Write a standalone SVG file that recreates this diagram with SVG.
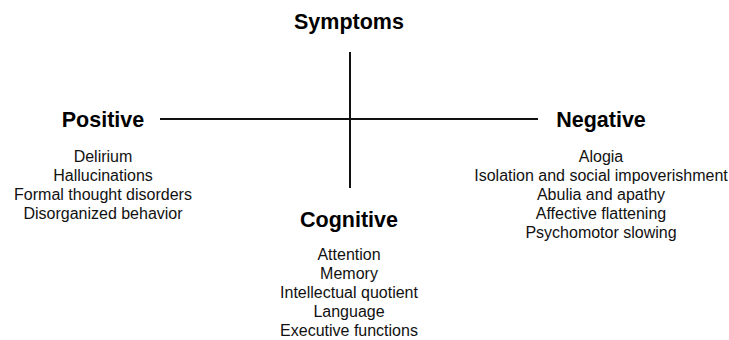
<svg xmlns="http://www.w3.org/2000/svg" width="729" height="340" viewBox="0 0 729 340">
  <style>
    .title { font-family: "Liberation Sans", Arial, sans-serif; font-weight: bold; font-size: 21.5px; fill: #000; text-anchor: middle; }
    .item { font-family: "Liberation Sans", Arial, sans-serif; font-size: 16px; fill: #111; text-anchor: middle; }
    .axis { stroke: #111; stroke-width: 2; fill: none; }
  </style>
  <rect width="729" height="340" fill="#fff"/>
  <g id="connectors">
    <line class="axis" x1="160" y1="119" x2="538" y2="119"/>
    <line class="axis" x1="350" y1="52" x2="350" y2="188"/>
  </g>
  <g id="symptoms">
    <text class="title" x="349" y="29">Symptoms</text>
  </g>
  <g id="positive">
    <text class="title" x="103" y="127">Positive</text>
    <text class="item" x="103" y="162">Delirium</text>
    <text class="item" x="103" y="181">Hallucinations</text>
    <text class="item" x="103" y="200">Formal thought disorders</text>
    <text class="item" x="103" y="219">Disorganized behavior</text>
  </g>
  <g id="negative">
    <text class="title" x="601" y="127">Negative</text>
    <text class="item" x="601" y="162">Alogia</text>
    <text class="item" x="601" y="181">Isolation and social impoverishment</text>
    <text class="item" x="601" y="200">Abulia and apathy</text>
    <text class="item" x="601" y="219">Affective flattening</text>
    <text class="item" x="601" y="238">Psychomotor slowing</text>
  </g>
  <g id="cognitive">
    <text class="title" x="349" y="227">Cognitive</text>
    <text class="item" x="349" y="260">Attention</text>
    <text class="item" x="349" y="279">Memory</text>
    <text class="item" x="349" y="298">Intellectual quotient</text>
    <text class="item" x="349" y="317">Language</text>
    <text class="item" x="349" y="336">Executive functions</text>
  </g>
</svg>
